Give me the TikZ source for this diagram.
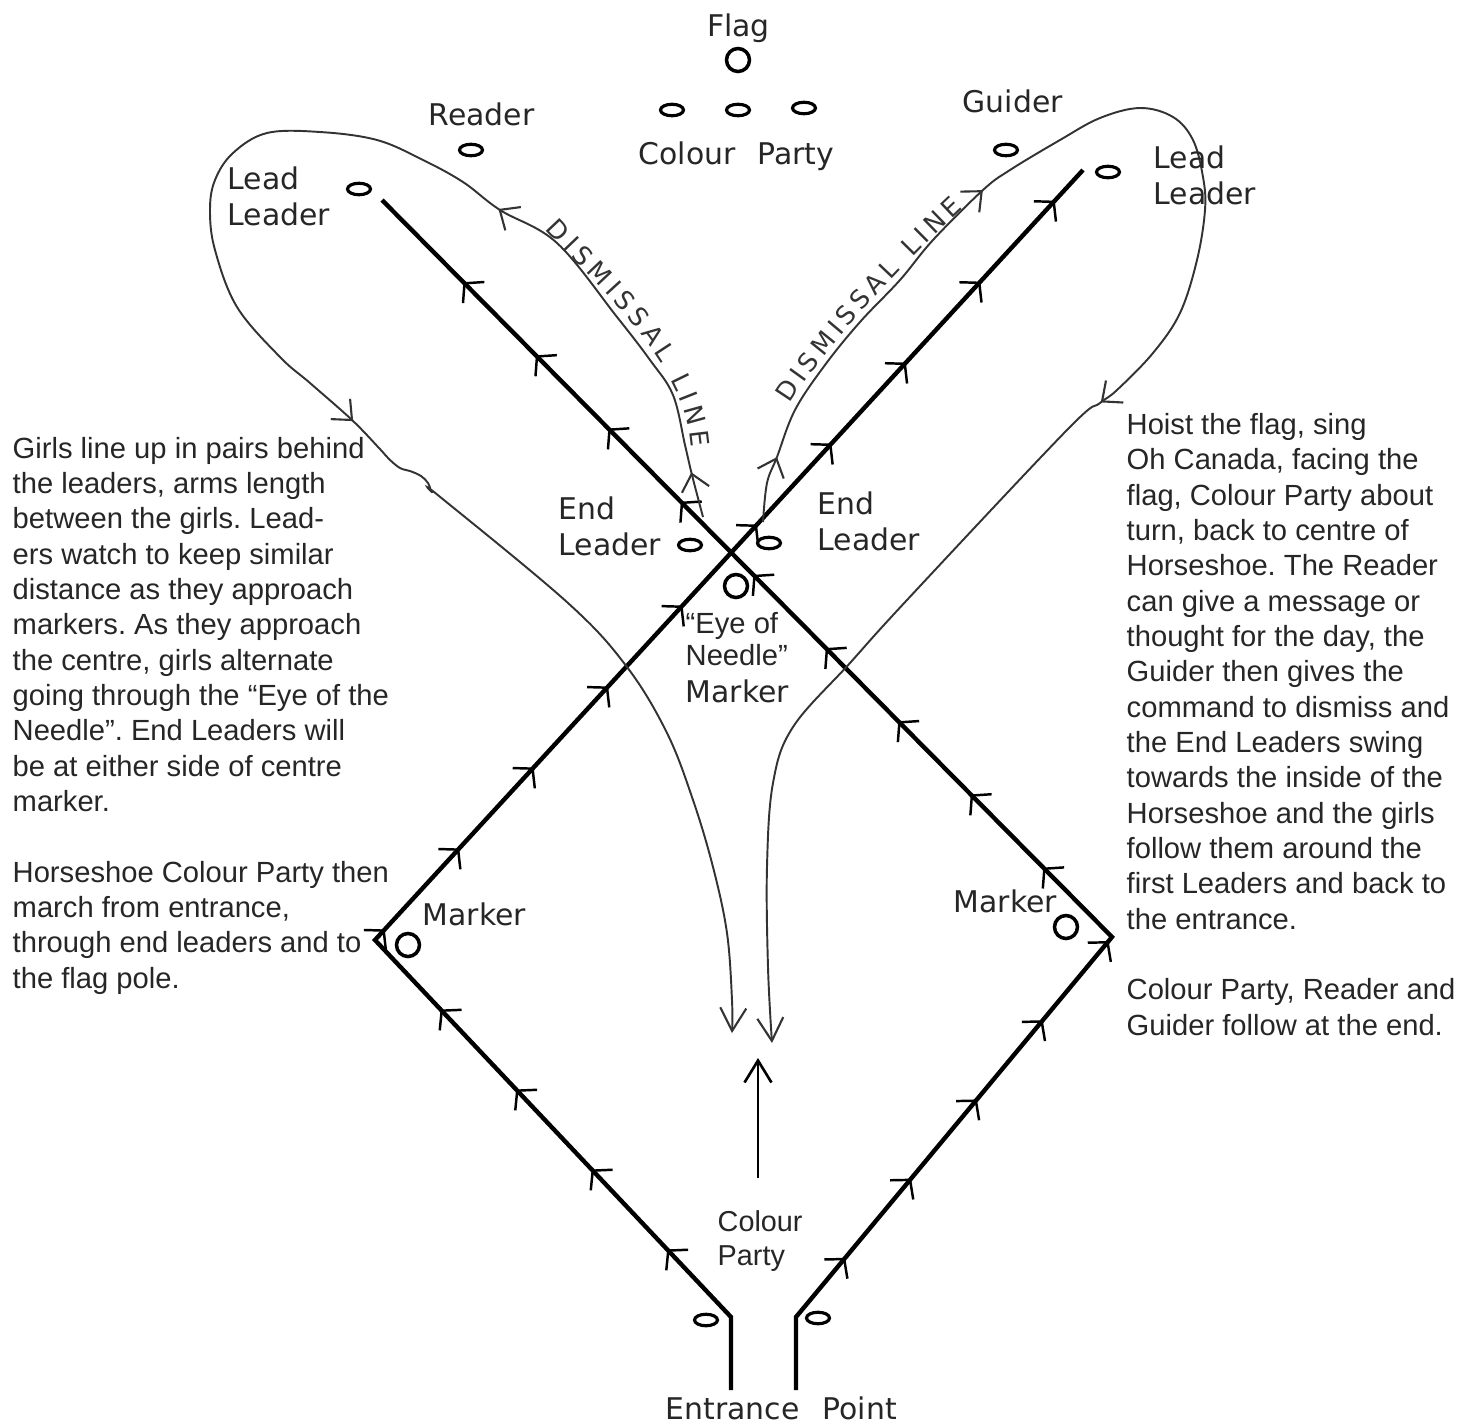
\documentclass[tikz,border=0pt]{standalone}
\usepackage{fontspec}
\newfontfamily\signfont{DejaVu Sans}
\newfontfamily\notefont{Liberation Sans}
\newcommand\scrawl{\signfont\fontsize{7.3}{8}\selectfont}
\usetikzlibrary{arrows.meta,decorations.markings,decorations.text,shapes.geometric}
\frenchspacing

\begin{document}
\begin{tikzpicture}[
    every node/.style={inner sep=0pt},
    sign/.style={font=\signfont\fontsize{8.5}{10}\selectfont,text=black!85,anchor=base west,align=left},
    note/.style={font=\notefont\fontsize{8.3}{10.05}\selectfont,text=black!85,anchor=base west,align=left},
    spot/.style={draw,ellipse,line width=0.9pt,minimum width=2.3mm,minimum height=1.15mm},
    ring/.style={draw,circle,line width=1pt,minimum size=2.3mm},
    march/.style={line width=1.25pt,postaction={decorate},
        decoration={markings,mark=between positions #1 with {\arrow{Straight Barb[length=1.3mm,width=3mm,line width=0.7pt]}}}},
    dismiss/.style={line width=0.55pt,black!80,-{Straight Barb[length=2.3mm,width=2.6mm,line width=0.6pt]}},
    flow/.style={postaction={decorate,
        decoration={markings,mark=at position #1 with {\arrow{Straight Barb[length=1.6mm,width=2.8mm,line width=0.6pt]}}}}},
    advance/.style={line width=0.75pt,-{Straight Barb[length=2.2mm,width=2.7mm,line width=0.75pt]}}
]
\useasboundingbox (0,0) rectangle (14.68,-14.25);

    %Puntos de la herradura
    \coordinate (e1b) at (7.31,-13.90);
    \coordinate (e1t) at (7.31,-13.17);
    \coordinate (e2b) at (7.96,-13.90);
    \coordinate (e2t) at (7.96,-13.17);
    \coordinate (ml) at (3.75,-9.40);
    \coordinate (mr) at (11.12,-9.37);
    \coordinate (ll) at (3.82,-2.00);
    \coordinate (rl) at (10.83,-1.70);

    %Lineas de marcha
    \draw[march=1.66cm and 16.2cm step 1.1cm] (e1b) -- (e1t) -- (ml) -- (rl);
    \draw[march=1.5cm and 15.9cm step 1.03cm] (e2b) -- (e2t) -- (mr) -- (ll);

    %Lineas de despedida
    \draw[dismiss,flow=0.026,flow=0.217,flow=0.566] plot[smooth,tension=0.6] coordinates {
        (7.03,-5.17) (6.92,-4.75) (6.85,-4.45) (6.73,-3.95) (6.50,-3.60) (6.17,-3.17)
        (5.57,-2.43) (5.00,-2.10) (4.63,-1.82) (4.23,-1.60) (3.77,-1.40) (3.20,-1.32)
        (2.67,-1.33) (2.33,-1.53) (2.15,-1.80) (2.10,-2.10) (2.15,-2.50) (2.37,-3.07)
        (2.80,-3.57) (3.10,-3.83) (3.52,-4.20) (3.79,-4.48) (3.89,-4.59) (4.00,-4.68)
        (4.10,-4.71) (4.21,-4.76) (4.28,-4.83) (4.32,-4.92) (4.39,-4.96) (5.68,-6.03)
        (6.27,-6.67) (6.67,-7.33) (6.93,-8.00) (7.13,-8.67) (7.27,-9.33) (7.32,-10.00)
        (7.32,-10.33)};
    \draw[dismiss,flow=0.039,flow=0.237,flow=0.553] plot[smooth,tension=0.6] coordinates {
        (7.63,-5.22) (7.67,-4.83) (7.77,-4.57) (7.95,-4.10) (8.25,-3.65) (8.60,-3.22)
        (9.00,-2.80) (9.33,-2.40) (9.83,-1.90) (10.10,-1.70) (10.60,-1.40) (11.00,-1.18)
        (11.40,-1.08) (11.73,-1.17) (11.93,-1.40) (12.03,-1.77) (12.05,-2.10) (11.97,-2.60)
        (11.80,-3.13) (11.53,-3.53) (11.17,-3.90) (11.00,-4.03) (10.67,-4.30) (9.07,-6.00)
        (8.50,-6.63) (7.93,-7.27) (7.73,-7.83) (7.67,-8.67) (7.68,-9.67) (7.72,-10.43)};
    \path[decorate,decoration={text along path,text align={fit to path},text color=black!80,
        text={|\scrawl|DISMISSAL LINE}}] (5.45,-2.29) .. controls (6.09,-2.975) and (6.86,-3.66) .. (6.91,-4.48);
    \path[decorate,decoration={text along path,text align={fit to path},text color=black!80,
        text={|\scrawl|DISMISSAL LINE}}] (7.90,-4.04) .. controls (8.27,-3.45) and (9.04,-2.63) .. (9.63,-2.08);

    %Colour Party al centro
    \coordinate (cpfoot) at (7.58,-11.78);
    \coordinate (cphead) at (7.58,-10.58);
    \draw[advance] (cpfoot) -- (cphead);

    %Marcadores y personas
    \node[ring] (flag) at (7.38,-0.60) {};
    \node[spot] (cp1) at (6.72,-1.10) {};
    \node[spot] (cp2) at (7.38,-1.10) {};
    \node[spot] (cp3) at (8.04,-1.08) {};
    \node[spot] (reader) at (4.71,-1.50) {};
    \node[spot] (guider) at (10.06,-1.50) {};
    \node[spot] (leadl) at (3.59,-1.89) {};
    \node[spot] (leadr) at (11.08,-1.72) {};
    \node[spot] (endl) at (6.90,-5.45) {};
    \node[spot] (endr) at (7.69,-5.43) {};
    \node[ring] (eye) at (7.36,-5.86) {};
    \node[ring] (markl) at (4.08,-9.45) {};
    \node[ring] (markr) at (10.66,-9.27) {};
    \node[spot] (entl) at (7.06,-13.20) {};
    \node[spot] (entr) at (8.18,-13.18) {};

    %Textos
    \node[sign,anchor=base] (flagtxt) at (7.385,-0.36) {Flag};
    \node[sign] (readertxt) at (4.28,-1.25) {Reader};
    \node[sign] (cptoptxt) at (6.38,-1.64) {Colour\hspace{2.2mm}Party};
    \node[sign] (guidertxt) at (9.62,-1.12) {Guider};
    \node[sign] (leadltxt) at (2.27,-2.25) {Lead\\Leader};
    \node[sign] (leadrtxt) at (11.53,-2.04) {Lead\\Leader};
    \node[sign] (endltxt) at (5.58,-5.55) {End\\Leader};
    \node[sign] (endrtxt) at (8.17,-5.50) {End\\Leader};
    \node[note,font=\notefont\fontsize{8.3}{9.1}\selectfont] (eyetxt) at (6.85,-6.65) {“Eye of\\Needle”};
    \node[sign] (eyemark) at (6.85,-7.02) {Marker};
    \node[sign] (markltxt) at (4.22,-9.25) {Marker};
    \node[sign] (markrtxt) at (9.53,-9.12) {Marker};
    \node[note,font=\notefont\fontsize{8.2}{9.4}\selectfont] (cptxt) at (7.17,-12.65) {Colour\\Party};
    \node[sign] (entrytxt) at (6.65,-14.19) {Entrance\hspace{2.3mm}Point};

    \node[note] (lefttxt) at (0.12,-9.88) {Girls line up in pairs behind\\the leaders, arms length\\between the girls. Lead-\\ers watch to keep similar\\distance as they approach\\markers. As they approach\\the centre, girls alternate\\going through the “Eye of the\\Needle”. End Leaders will\\be at either side of centre\\marker.\\[10.05pt]Horseshoe Colour Party then\\march from entrance,\\through end leaders and to\\the flag pole.};
    \node[note] (righttxt) at (11.26,-10.35) {Hoist the flag, sing\\Oh Canada, facing the\\flag, Colour Party about\\turn, back to centre of\\Horseshoe. The Reader\\can give a message or\\thought for the day, the\\Guider then gives the\\command to dismiss and\\the End Leaders swing\\towards the inside of the\\Horseshoe and the girls\\follow them around the\\first Leaders and back to\\the entrance.\\[10.05pt]Colour Party, Reader and\\Guider follow at the end.};
\end{tikzpicture}
\end{document}
